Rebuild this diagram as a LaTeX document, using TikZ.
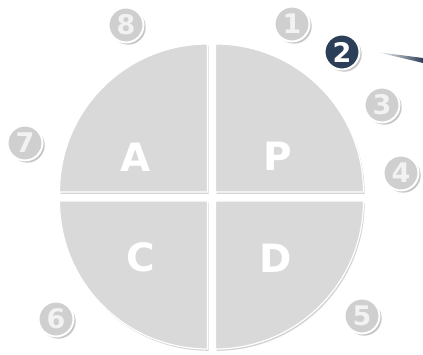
\documentclass[tikz,border=0pt]{standalone}
\usepackage{fontspec}
\setmainfont{DejaVu Sans}
\usetikzlibrary{positioning,shadows}
\definecolor{quad}{HTML}{D9D9D9}
\definecolor{badgegrey}{HTML}{CFCFCF}
\definecolor{digitgrey}{HTML}{F2F2F2}
\definecolor{navy}{HTML}{2B3F58}
\tikzset{
  quarter/.style={fill=quad,draw=white,line width=1.2pt,
    drop shadow={shadow xshift=1.2pt,shadow yshift=-1.8pt,opacity=.35}},
  phase/.style={text=white,font=\fontsize{39}{39}\selectfont\bfseries},
  badge/.style={circle,minimum size=35pt,inner sep=0pt,fill=badgegrey,draw=white,
    line width=2pt,text=digitgrey,font=\fontsize{27}{27}\selectfont\bfseries,
    drop shadow={shadow xshift=2.2pt,shadow yshift=-2.2pt,opacity=.45}}
}
\begin{document}
\begin{tikzpicture}[x=1pt,y=1pt]
      \useasboundingbox (0,0) rectangle (423,355);
      % four quarters of the cycle
      \path[quarter](215.5,163) -- ++(148,0) arc[start angle=0,end angle=90,radius=148] -- cycle;
      \path[quarter](207.5,163) -- ++(0,148) arc[start angle=90,end angle=180,radius=148] -- cycle;
      \path[quarter](207.5,154) -- ++(-148,0) arc[start angle=180,end angle=270,radius=148] -- cycle;
      \path[quarter](215.5,154) -- ++(0,-148) arc[start angle=270,end angle=360,radius=148] -- cycle;
      \node[phase] (pa) at (136,198){A}; \node[phase] (pp) at (278,199){P};
      \node[phase] (pc) at (141,98){C}; \node[phase] (pd) at (276,97){D};
      % numbered steps round the circle
      \node[badge] (b1) at (292,331){1};
      \node[badge,fill=navy,text=white] (b2) at (342,303){2};
      \node[badge] (b3) at (382,250){3}; \node[badge] (b4) at (401,182){4};
      \node[badge] (b5) at (362,39){5}; \node[badge] (b6) at (56,36){6};
      \node[badge] (b7) at (25,212){7}; \node[badge] (b8) at (126,330){8};
      \coordinate (tip) at (423,294.5);
      \shade[left color=white,right color=navy]([xshift=16pt]b2.east) -- ([yshift=2.5pt]tip)
        -- ([yshift=-2.5pt]tip) -- cycle;
    \end{tikzpicture}
\end{document}
